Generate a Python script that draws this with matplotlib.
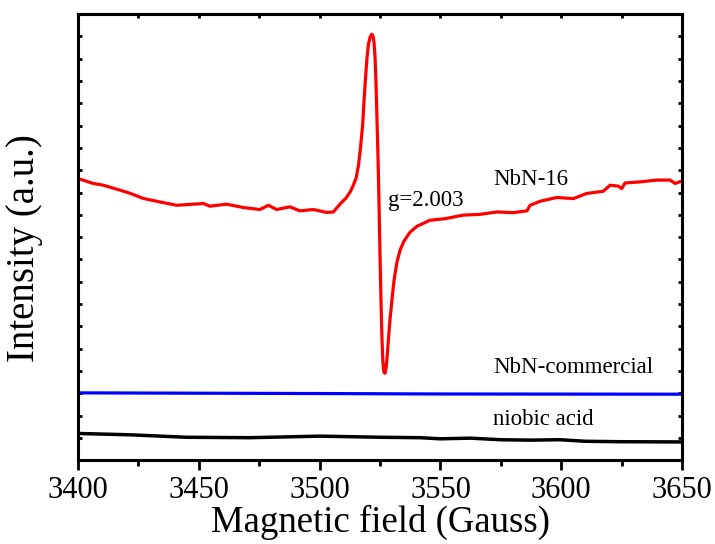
import numpy as np
import matplotlib.pyplot as plt
from matplotlib.ticker import MultipleLocator

plt.rcParams['font.family'] = ['Liberation Serif', 'DejaVu Serif']

# EPR spectra (field in Gauss, intensity in arbitrary units)
field_nbn16 = [3400, 3406.3, 3410.5, 3417.4, 3421.5, 3427.0, 3433.9, 3440.9, 3447.7, 3451.9,
               3454.6, 3461.5, 3468.4, 3475.3, 3478.8, 3482.2, 3487.7, 3491.9, 3497.4, 3502.9,
               3505.7, 3508.4, 3510.9, 3512.6, 3513.8, 3515.1, 3516.1, 3516.9, 3517.8, 3518.4,
               3519.0, 3519.6, 3520.2, 3520.9, 3521.6, 3522.1, 3522.5, 3522.9, 3523.3, 3523.7,
               3524.2, 3524.6, 3525.0, 3525.4, 3525.8, 3526.2, 3526.6, 3527.1, 3527.5, 3527.9,
               3528.3, 3529.1, 3530.0, 3530.8, 3532.0, 3533.3, 3534.9, 3537.4, 3540.3, 3545.7,
               3552.0, 3559.4, 3566.0, 3573.4, 3580.0, 3585.8, 3587.1, 3591.2, 3598.1, 3605.0,
               3610.5, 3617.4, 3620.2, 3623.6, 3625.0, 3626.4, 3632.6, 3639.5, 3645.0, 3647.1,
               3650]
int_nbn16 = [12.63, 12.41, 12.33, 12.11, 11.97, 11.74, 11.58, 11.43, 11.48, 11.51,
             11.39, 11.48, 11.33, 11.24, 11.43, 11.24, 11.36, 11.18, 11.24, 11.11,
             11.13, 11.48, 11.75, 12.02, 12.29, 12.65, 13.23, 13.99, 15.02, 16.14,
             17.13, 18.03, 18.65, 18.97, 19.10, 19.01, 18.74, 18.16, 17.04, 15.47,
             13.45, 11.43, 9.19, 7.17, 5.47, 4.39, 3.95, 3.90, 4.13, 4.57,
             5.16, 6.28, 7.26, 8.07, 8.88, 9.42, 9.82, 10.22, 10.49, 10.76,
             10.83, 10.99, 11.02, 11.13, 11.10, 11.18, 11.43, 11.61, 11.78, 11.73,
             11.96, 12.06, 12.33, 12.29, 12.18, 12.43, 12.48, 12.56, 12.56, 12.41,
             12.52]

field_comm = [3400, 3500, 3550, 3650]
int_comm = [3.02, 2.99, 2.97, 2.96]

field_acid = [3400, 3421.5, 3444.7, 3471.2, 3500.2, 3525.0, 3541.6, 3549.8, 3562.3,
              3574.7, 3587.1, 3599.5, 3609.8, 3624.3, 3650]
int_acid = [1.20, 1.14, 1.03, 1.01, 1.08, 1.03, 1.01, 0.96, 0.99,
            0.92, 0.90, 0.92, 0.85, 0.83, 0.82]

fig = plt.figure(figsize=(7.15, 5.44), dpi=100)
ax = fig.add_axes([0.109, 0.154, 0.845, 0.820])

ax.plot(field_nbn16, int_nbn16, color='#ff0000', lw=2.3)
ax.plot(field_comm, int_comm, color='#0000ff', lw=2.3)
ax.plot(field_acid, int_acid, color='black', lw=2.5)

ax.text(3571.8, 12.6, 'NbN-16', fontsize=16.5, va='center', ha='left')
ax.text(3528.3, 11.66, 'g=2.003', fontsize=16.5, va='center', ha='left')
ax.text(3571.8, 4.17, 'NbN-commercial', fontsize=16.5, va='center', ha='left')
ax.text(3571.8, 1.84, 'niobic acid', fontsize=16.5, va='center', ha='left')

ax.set_xlim(3400, 3650)
ax.set_ylim(0, 20)
ax.xaxis.set_major_locator(MultipleLocator(50))
ax.xaxis.set_minor_locator(MultipleLocator(25))
ax.yaxis.set_major_locator(MultipleLocator(1))
ax.tick_params(axis='x', which='major', direction='out', length=7, width=2,
               labelsize=22, pad=4)
ax.tick_params(axis='x', which='minor', direction='out', length=4, width=2)
ax.tick_params(axis='y', which='major', direction='in', length=3, width=2,
               left=True, right=True, labelleft=False)

top = ax.secondary_xaxis('top')
top.xaxis.set_major_locator(MultipleLocator(25))
top.tick_params(direction='in', length=3, width=2, labeltop=False)

for sp in list(ax.spines.values()) + list(top.spines.values()):
    sp.set_linewidth(2.2)

ax.set_xlabel('Magnetic field (Gauss)', fontsize=26.5, labelpad=0)
ax.set_ylabel('Intensity (a.u.)', fontsize=28)
ax.yaxis.set_label_coords(-0.058, 0.475)

fig.savefig('out.png', dpi=100)
